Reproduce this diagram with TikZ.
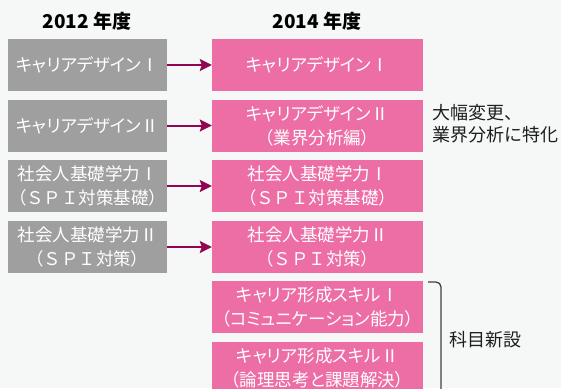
\documentclass[tikz,border=0pt]{standalone}
\usepackage{fontspec}
\setmainfont{Noto Sans CJK JP}
\newfontfamily\pk{Noto Sans CJK JP}[RawFeature=+palt]
\newcommand{\fw}[1]{{\rmfamily #1}}
\usetikzlibrary{arrows.meta}
\definecolor{bgc}{HTML}{F6F8F8}
\definecolor{grayc}{HTML}{9E9F9E}
\definecolor{pinkc}{HTML}{EC6EA5}
\definecolor{arrc}{HTML}{930552}
\definecolor{txtc}{HTML}{1E1E1E}
\begin{document}
\begin{tikzpicture}[x=1pt,y=-1pt,
  box/.style={minimum height=52pt,inner sep=0pt,text=white,align=center,
    font=\pk\fontsize{17.5}{24}\selectfont},
  oldbox/.style={box,fill=grayc,minimum width=159pt},
  newbox/.style={box,fill=pinkc,minimum width=211pt},
  conn/.style={arrc,line width=2pt,-{Stealth[length=12pt,width=12pt,inset=2pt]}},
  head/.style={font=\fontsize{19}{22}\selectfont\bfseries,text=black},
  note/.style={font=\fontsize{18}{22}\selectfont,text=txtc,align=left,anchor=west,inner sep=0pt}]
\fill[bgc] (0,0) rectangle (561,388);
\useasboundingbox (0,0) rectangle (561,388);
\clip (0,0) rectangle (561,388);
\node[head] (h1) at (87,21) {2012 年度};
\node[head] (h2) at (317,21) {2014 年度};
\node[oldbox] (o1) at (87.5,65) {キャリアデザインⅠ};
\node[oldbox] (o2) at (87.5,125.5) {キャリアデザインⅡ};
\node[oldbox] (o3) at (87.5,186) {社会人基礎学力Ⅰ\\（\fw{ＳＰＩ}対策基礎）};
\node[oldbox] (o4) at (87.5,247) {社会人基礎学力Ⅱ\\（\fw{ＳＰＩ}対策）};
\node[newbox] (n1) at (317.5,65) {キャリアデザインⅠ};
\node[newbox] (n2) at (317.5,125.5) {キャリアデザインⅡ\\（業界分析編）};
\node[newbox] (n3) at (317.5,186) {社会人基礎学力Ⅰ\\（\fw{ＳＰＩ}対策基礎）};
\node[newbox] (n4) at (317.5,247) {社会人基礎学力Ⅱ\\（\fw{ＳＰＩ}対策）};
\node[newbox] (n5) at (317.5,307) {キャリア形成スキルⅠ\\（コミュニケーション能力）};
\node[newbox] (n6) at (317.5,367.5) {キャリア形成スキルⅡ\\（論理思考と課題解決）};
\foreach \i in {1,2,3,4} \draw[conn] (o\i.east) -- (n\i.west);
\node[note] (t1) at (432,124) {大幅変更、\\業界分析に特化};
\coordinate (b1) at (428,282);
\coordinate (b2) at (441,400);
\draw[txtc!85,line width=1.3pt,rounded corners=5pt] (b1) -| (b2);
\node[note] (t2) at (449,340) {科目新設};
\end{tikzpicture}
\end{document}
